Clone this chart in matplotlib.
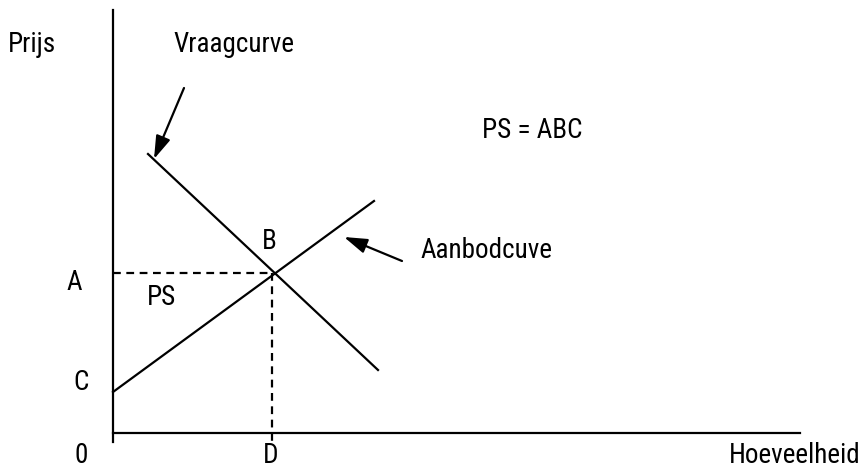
import matplotlib
matplotlib.use("Agg")
import matplotlib.pyplot as plt
from matplotlib import font_manager

# ---- data (diagram coordinates, x right, y down as in the picture) ----
origin = (113, 433)
y_axis_top = 10
x_axis_end = 800
demand_x = [148, 378]
demand_y = [154, 370]
supply_x = [113, 374]
supply_y = [392, 201]
eq_x = 272
eq_y = 273
labels_text = ["Prijs", "Vraagcurve", "PS = ABC", "B", "Aanbodcuve", "A", "PS", "C", "0", "D", "Hoeveelheid"]
labels_x = [8, 173, 482, 262, 420, 66, 147, 73, 74, 263, 729]
labels_y = [45, 45, 130, 241, 250, 282, 297, 382, 455, 455, 455]
arrow_starts = [(184, 88), (402, 261)]
arrow_ends = [(154, 159), (344, 237)]

# pick a condensed sans font if one is installed
fonts = font_manager.fontManager.ttflist
names = {f.name for f in fonts}
font_kw = None
for cand in ["Liberation Sans Narrow", "Roboto Condensed", "Open Sans Condensed", "Noto Sans Condensed"]:
    if cand in names:
        font_kw = dict(family=cand)
        break
if font_kw is None:
    cond = [f for f in fonts if str(f.stretch) in ("condensed", "semi-condensed", "extra-condensed")
            or (isinstance(f.stretch, int) and f.stretch < 500)]
    cond = [f for f in cond if f.weight in (400, "normal", "regular") and f.style == "normal"]
    if cond:
        font_kw = dict(fname=cond[0].fname)
if font_kw is None:
    font_kw = dict(family="Liberation Sans")
fp = font_manager.FontProperties(size=19.5, **font_kw)

fig = plt.figure(figsize=(8.63, 4.73), dpi=100)
ax = fig.add_axes([0, 0, 1, 1])
ax.set_xlim(0, 863)
ax.set_ylim(473, 0)
ax.axis("off")

lw = 1.6
# axes
ax.plot([origin[0], origin[0]], [y_axis_top, origin[1] + 9], color="black", lw=lw)
ax.plot([origin[0], x_axis_end], [origin[1], origin[1]], color="black", lw=lw)
# curves
ax.plot(demand_x, demand_y, color="black", lw=lw)
ax.plot(supply_x, supply_y, color="black", lw=lw)
# dashed
ax.plot([origin[0], eq_x], [eq_y, eq_y], color="black", lw=lw, ls=(0, (3.5, 2.5)))
ax.plot([eq_x, eq_x], [eq_y, origin[1] + 9], color="black", lw=lw, ls=(0, (3.5, 2.5)))

for s, e in zip(arrow_starts, arrow_ends):
    ax.annotate("", xy=e, xytext=s,
                arrowprops=dict(arrowstyle="-|>,head_length=1.4,head_width=0.45",
                                color="black", lw=1.6, shrinkA=0, shrinkB=0))

for t, x, y in zip(labels_text, labels_x, labels_y):
    ax.text(x, y, t, fontproperties=fp, ha="left", va="center", color="black")

fig.savefig("out.png", dpi=100)
